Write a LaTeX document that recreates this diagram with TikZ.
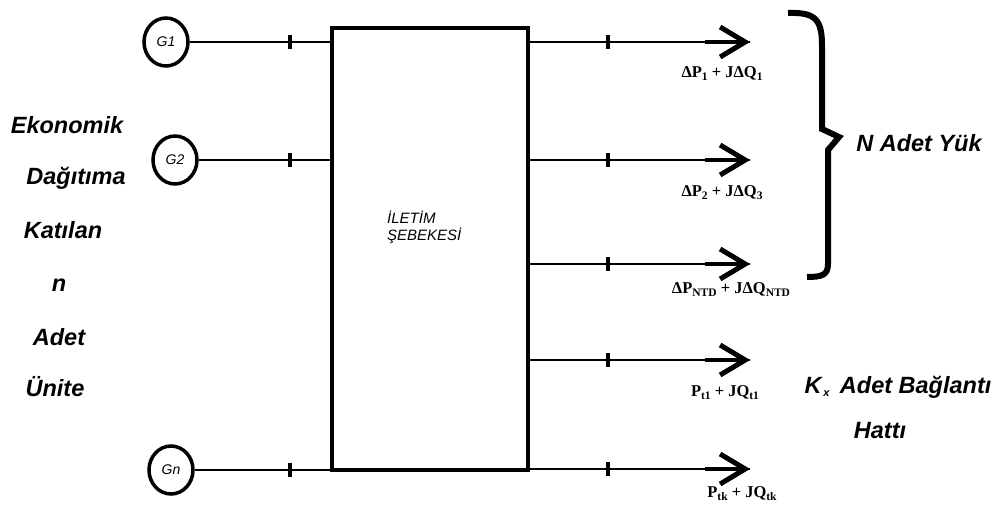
\documentclass[tikz,border=0pt]{standalone}
\usepackage{fontspec}
\setmainfont{Liberation Sans}
\newfontfamily\lserif{Liberation Serif}
\usetikzlibrary{arrows.meta,calc,shapes.geometric}
\newcommand\sbs[1]{\raisebox{-0.4ex}{\fontsize{11.5}{11.5}\selectfont #1}}
\tikzset{
  conn/.style={line width=2pt},
  thickend/.style={line width=4pt,-{Straight Barb[length=25pt,width=30pt,line width=5pt]}},
  tickmark/.style={line width=4pt},
  gen/.style={ellipse,draw,line width=3.5pt,minimum width=44pt,minimum height=48pt,inner sep=0pt,font=\fontsize{14}{14}\selectfont\itshape},
  side/.style={font=\fontsize{23.5}{23.5}\selectfont\bfseries\itshape,inner sep=0pt},
  flow/.style={font=\lserif\fontsize{16.5}{16.5}\selectfont\bfseries,inner sep=0pt},
}
\begin{document}
\begin{tikzpicture}[x=1pt,y=-1pt]
\useasboundingbox (0,0) rectangle (999,510);
% network box
\node[draw,line width=3.5pt,minimum width=196pt,minimum height=442pt,inner sep=0pt] (net) at (430,249) {};
\node[anchor=north west,align=left,inner sep=0pt,font=\fontsize{15}{17}\selectfont\itshape] (lbl) at (387,211) {İLETİM\\ŞEBEKESİ};
% generators
\node[gen] (g1) at (166,42) {G1};
\node[gen] (g2) at (175,160) {G2};
\node[gen] (gn) at (171,470) {Gn};
\foreach \g in {g1,g2,gn}{
  \draw[conn] (\g) -- (\g -| net.west);
  \draw[tickmark] ($(\g -| 290,0)+(0,-7)$) -- ++(0,14);
}
% outputs
\foreach \n/\y in {o1/42,o2/160,o3/264,o4/360,o5/469}{
  \coordinate (\n) at (750,\y);
  \draw[conn] (net.east |- \n) -- (\n);
  \draw[thickend] ($(\n)+(-45,0)$) -- (\n);
  \draw[tickmark] ($(\n -| 608,0)+(0,-7)$) -- ++(0,14);
}
% flow labels
\node[flow] (f1) at (722,74) {ΔP\sbs{1} + JΔQ\sbs{1}};
\node[flow] (f2) at (722,193) {ΔP\sbs{2} + JΔQ\sbs{3}};
\node[flow] (f3) at (731,290) {ΔP\sbs{NTD} + JΔQ\sbs{NTD}};
\node[flow] (f4) at (725,393) {P\sbs{t1} + JQ\sbs{t1}};
\node[flow] (f5) at (742,494) {P\sbs{tk} + JQ\sbs{tk}};
% brace
\draw[line width=6pt,line join=miter] (788,13) .. controls (816,12) and (822,20) .. (822,46)
  -- (822,129) -- (839,137) -- (828,150) -- (828,264) .. controls (828,275) and (822,277) .. (807,277);
\node[side] (nyuk) at (919,143) {N Adet Yük};
% left text
\node[side] (t1) at (67,125) {Ekonomik};
\node[side] (t2) at (76,178) {Dağıtıma};
\node[side] (t3) at (63,230) {Katılan};
\node[side] (t4) at (59,285) {n};
\node[side] (t5) at (59,337) {Adet};
\node[side] (t6) at (55,387) {Ünite};
% right lower text
\node[side] (kx) at (898,387) {K\raisebox{-0.3ex}{\fontsize{11}{11}\selectfont\,x}\, Adet Bağlantı};
\node[side] (hat) at (880,431) {Hattı};
\end{tikzpicture}
\end{document}
